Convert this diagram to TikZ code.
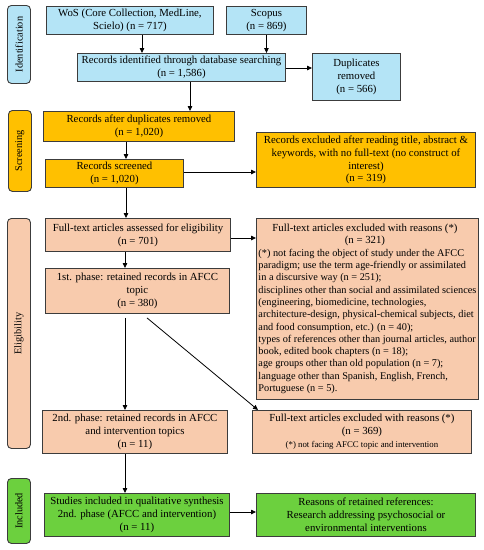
\documentclass[tikz,border=0pt]{standalone}
\usepackage{fontspec}
\setmainfont{Liberation Serif}
\usetikzlibrary{arrows.meta}
\definecolor{cblue}{RGB}{180,228,246}
\definecolor{cgold}{RGB}{255,192,0}
\definecolor{csalmon}{RGB}{248,203,173}
\definecolor{cgreen}{RGB}{108,208,62}
\definecolor{cborder}{RGB}{60,60,60}
\newcommand{\bxfont}{\fontsize{10.8}{12.8}\selectfont}
\newcommand{\sdfont}{\fontsize{10.3}{12.3}\selectfont}
\tikzset{
  box/.style={draw=cborder, line width=0.9pt, anchor=north west, align=center,
    inner sep=2pt, font=\bxfont},
  side/.style={draw=cborder, line width=0.9pt, rounded corners=4pt, anchor=north west},
  sidetext/.style={rotate=90, font=\sdfont},
  arr/.style={draw=black, line width=0.8pt, -{Triangle[length=5pt,width=4.5pt]}},
}
\begin{document}
\begin{tikzpicture}[x=1pt,y=-1pt]
\useasboundingbox (0,0) rectangle (483,550);
% side labels
\node[side, fill=cblue, minimum width=23pt, minimum height=78pt] (lid) at (7,5) {};
\node[sidetext] (tid) at (lid.center) {Identification};
\node[side, fill=cgold, minimum width=23pt, minimum height=81pt] (lsc) at (8,110) {};
\node[sidetext] (tsc) at (lsc.center) {Screening};
\node[side, fill=csalmon, minimum width=23pt, minimum height=230pt] (lel) at (7,218) {};
\node[sidetext] (tel) at (lel.center) {Eligibility};
\node[side, fill=cgreen, minimum width=23pt, minimum height=65pt] (lin) at (7,478) {};
\node[sidetext] (tin) at (lin.center) {Included};
% identification
\node[box, fill=cblue, minimum width=167pt, minimum height=28pt] (wos) at (46,6)
  {WoS (Core Collection, MedLine,\\ Scielo) (n = 717)};
\node[box, fill=cblue, minimum width=80pt, minimum height=28pt] (sco) at (226,6)
  {Scopus\\ (n = 869)};
\node[box, fill=cblue, minimum width=208pt, minimum height=28pt] (ide) at (77,53)
  {Records identified through database searching\\ (n = 1,586)};
\node[box, fill=cblue, minimum width=88pt, minimum height=47pt] (dup) at (312,53)
  {Duplicates\\ removed\\ (n = 566)};
% screening
\node[box, fill=cgold, minimum width=191pt, minimum height=30pt] (aft) at (43,111)
  {Records after duplicates removed\\ (n = 1,020)};
\node[box, fill=cgold, minimum width=219pt, minimum height=55pt] (ex1) at (256,132)
  {Records excluded after reading title, abstract \&\\ keywords, with no full-text (no construct of\\ interest)\\ (n = 319)};
\node[box, fill=cgold, minimum width=138pt, minimum height=28pt] (scr) at (45,159)
  {Records screened\\ (n = 1,020)};
% eligibility
\node[box, fill=csalmon, minimum width=185pt, minimum height=33pt] (ass) at (45,218)
  {Full-text articles assessed for eligibility\\ (n = 701)};
\node[box, fill=csalmon, minimum width=219pt, minimum height=181pt, align=left,
      font=\fontsize{10.3}{12.3}\selectfont] (ex2) at (256,218)
  {\makebox[213pt][c]{\bxfont Full-text articles excluded with reasons (*)}\\
   \makebox[213pt][c]{\bxfont (n = 321)}\\
   (*) not facing the object of study under the AFCC\\
   paradigm; use the term age-friendly or assimilated\\
   in a discursive way (n = 251);\\
   disciplines other than social and assimilated sciences\\
   (engineering, biomedicine, technologies,\\
   architecture-design, physical-chemical subjects, diet\\
   and food consumption, etc.) (n = 40);\\
   types of references other than journal articles, author\\
   book, edited book chapters (n = 18);\\
   age groups other than old population (n = 7);\\
   language other than Spanish, English, French,\\
   Portuguese (n = 5).};
\node[box, fill=csalmon, minimum width=184pt, minimum height=45pt] (ph1) at (45,268)
  {1st. phase: retained records in AFCC\\ topic\\ (n = 380)};
\node[box, fill=csalmon, minimum width=185pt, minimum height=43pt] (ph2) at (42,410)
  {2nd. phase: retained records in AFCC\\ and intervention topics\\ (n = 11)};
\node[box, fill=csalmon, minimum width=219pt, minimum height=43pt] (ex3) at (252,410)
  {Full-text articles excluded with reasons (*)\\ (n = 369)\\ {\fontsize{8.8}{10}\selectfont (*) not facing AFCC topic and intervention}};
% included
\node[box, fill=cgreen, minimum width=185pt, minimum height=43pt] (stu) at (44,493)
  {Studies included in qualitative synthesis\\ 2nd. phase (AFCC and intervention)\\ (n = 11)};
\node[box, fill=cgreen, minimum width=219pt, minimum height=43pt] (rea) at (256,493)
  {Reasons of retained references:\\ Research addressing psychosocial or\\ environmental interventions};
% x guides
\coordinate (xa) at (142,0);
\coordinate (xb) at (190,0);
\coordinate (xc) at (126,0);
\coordinate (xd) at (125,0);
\coordinate (xe) at (147,0);
\coordinate (ya) at (0,68);
\coordinate (yb) at (0,172);
\coordinate (yc) at (0,238);
\coordinate (yd) at (0,512);
% arrows
\draw[arr] (wos.south -| xa) -- (ide.north -| xa);
\draw[arr] (sco.south) -- (sco.south |- ide.north);
\draw[arr] (ide.east |- ya) -- (dup.west |- ya);
\draw[arr] (ide.south -| xb) -- (aft.north -| xb);
\draw[arr] (aft.south -| xc) -- (scr.north -| xc);
\draw[arr] (scr.east |- yb) -- (ex1.west |- yb);
\draw[arr] (scr.south -| xc) -- (ass.north -| xc);
\draw[arr] (ass.east |- yc) -- (ex2.west |- yc);
\draw[arr] (ass.south -| xd) -- (ph1.north -| xd);
\draw[arr] ([yshift=-4pt]ph1.south -| xd) -- (ph2.north -| xd);
\draw[arr] ([yshift=-4pt]ph1.south -| xe) -- ([xshift=6pt]ex3.north west);
\draw[arr] (ph2.south -| xd) -- (stu.north -| xd);
\draw[arr] (stu.east |- yd) -- (rea.west |- yd);
\end{tikzpicture}
\end{document}
